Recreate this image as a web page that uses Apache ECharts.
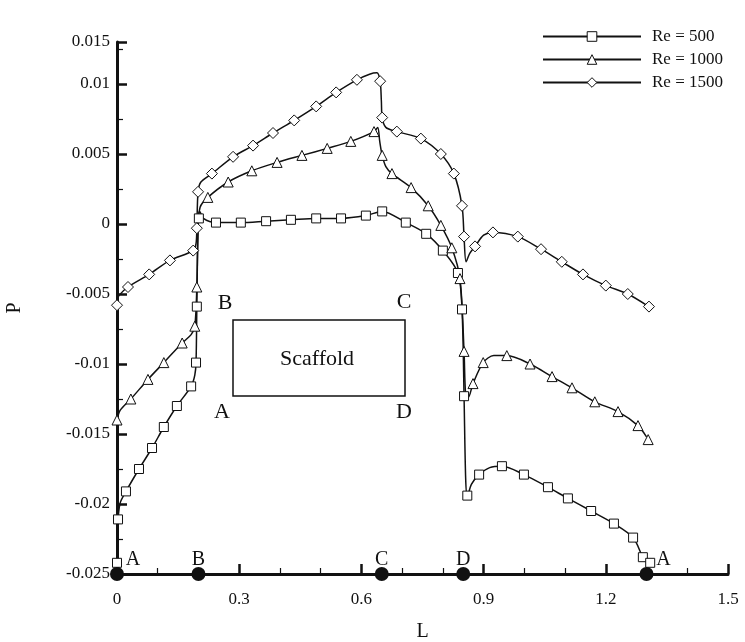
<!DOCTYPE html>
<html><head><meta charset="utf-8">
<script src="https://cdn.jsdelivr.net/npm/echarts@6/dist/echarts.min.js"></script>
<style>html,body{margin:0;padding:0;background:#fff}#c{width:745px;height:642px}</style>
</head><body><div id="c"></div>
<script>
const seriesNames = ['Re = 500', 'Re = 1000', 'Re = 1500'];
const seriesSymbols = ['rect', 'triangle', 'diamond'];

// Re = 500 : marker points and full smooth path
const re500Marks = [[0,-0.0242],[0.0025,-0.0211],[0.022,-0.0191],[0.054,-0.0175],[0.086,-0.0160],[0.115,-0.0145],[0.147,-0.0130],[0.182,-0.0116],[0.194,-0.0099],[0.196,-0.0059],[0.201,0.0004],[0.243,0.0001],[0.304,0.0001],[0.366,0.0002],[0.427,0.0003],[0.489,0.0004],[0.55,0.0004],[0.611,0.0006],[0.651,0.0009],[0.709,0.0001],[0.759,-0.0007],[0.80,-0.0019],[0.837,-0.0035],[0.847,-0.0061],[0.852,-0.0123],[0.860,-0.0194],[0.889,-0.0179],[0.945,-0.0173],[0.999,-0.0179],[1.058,-0.0188],[1.107,-0.0196],[1.164,-0.0205],[1.220,-0.0214],[1.267,-0.0224],[1.291,-0.0238],[1.309,-0.0242]];
const re500Path = [[0,-0.0242],[0.001,-0.0222],[0.0025,-0.0211],[0.008,-0.0199],[0.022,-0.0191],[0.054,-0.0175],[0.086,-0.0160],[0.115,-0.0145],[0.147,-0.0130],[0.182,-0.0116],[0.191,-0.0108],[0.194,-0.0099],[0.196,-0.0059],[0.198,-0.0015],[0.200,0.0006],[0.203,0.0009],[0.212,0.0004],[0.243,0.0001],[0.304,0.0001],[0.366,0.0002],[0.427,0.0003],[0.489,0.0004],[0.55,0.0004],[0.611,0.0006],[0.651,0.0009],[0.709,0.0001],[0.759,-0.0007],[0.80,-0.0019],[0.837,-0.0035],[0.847,-0.0061],[0.852,-0.0123],[0.856,-0.0182],[0.860,-0.0195],[0.870,-0.0186],[0.889,-0.0179],[0.915,-0.0174],[0.945,-0.0173],[0.999,-0.0179],[1.058,-0.0188],[1.107,-0.0196],[1.164,-0.0205],[1.220,-0.0214],[1.267,-0.0224],[1.291,-0.0238],[1.305,-0.0243]];

// Re = 1000
const re1000Marks = [[0,-0.0140],[0.034,-0.0125],[0.076,-0.0111],[0.115,-0.0099],[0.160,-0.0085],[0.191,-0.0073],[0.196,-0.0045],[0.223,0.0019],[0.273,0.0030],[0.331,0.0038],[0.393,0.0044],[0.454,0.0049],[0.516,0.0054],[0.574,0.0059],[0.631,0.0066],[0.651,0.0049],[0.675,0.0036],[0.722,0.0026],[0.764,0.0013],[0.795,-0.0001],[0.822,-0.0017],[0.842,-0.0039],[0.852,-0.0091],[0.874,-0.0114],[0.899,-0.0099],[0.957,-0.0094],[1.014,-0.0100],[1.068,-0.0109],[1.117,-0.0117],[1.173,-0.0127],[1.230,-0.0134],[1.279,-0.0144],[1.304,-0.0154]];
const re1000Path = [[0,-0.0140],[0.008,-0.0133],[0.034,-0.0125],[0.076,-0.0111],[0.115,-0.0099],[0.160,-0.0085],[0.182,-0.0079],[0.191,-0.0073],[0.196,-0.0045],[0.199,-0.0005],[0.204,0.0012],[0.223,0.0019],[0.273,0.0030],[0.331,0.0038],[0.393,0.0044],[0.454,0.0049],[0.516,0.0054],[0.574,0.0059],[0.631,0.0066],[0.640,0.0069],[0.645,0.0059],[0.651,0.0049],[0.660,0.0041],[0.675,0.0036],[0.722,0.0026],[0.764,0.0013],[0.795,-0.0001],[0.822,-0.0017],[0.842,-0.0039],[0.852,-0.0091],[0.856,-0.0122],[0.862,-0.0124],[0.874,-0.0114],[0.899,-0.0099],[0.925,-0.0094],[0.957,-0.0094],[1.014,-0.0100],[1.068,-0.0109],[1.117,-0.0117],[1.173,-0.0127],[1.230,-0.0134],[1.279,-0.0144],[1.300,-0.0152]];

// Re = 1500
const re1500Marks = [[0,-0.0058],[0.027,-0.0045],[0.079,-0.0036],[0.130,-0.0026],[0.187,-0.0019],[0.196,-0.0003],[0.199,0.0023],[0.233,0.0036],[0.285,0.0048],[0.334,0.0056],[0.383,0.0065],[0.435,0.0074],[0.489,0.0084],[0.538,0.0094],[0.589,0.0103],[0.646,0.0102],[0.651,0.0076],[0.687,0.0066],[0.746,0.0061],[0.795,0.0050],[0.827,0.0036],[0.847,0.0013],[0.852,-0.0009],[0.879,-0.0016],[0.923,-0.0006],[0.984,-0.0009],[1.041,-0.0018],[1.092,-0.0027],[1.144,-0.0036],[1.200,-0.0044],[1.254,-0.0050],[1.306,-0.0059]];
const re1500Path = [[0,-0.0055],[0.005,-0.0051],[0.027,-0.0045],[0.079,-0.0036],[0.130,-0.0026],[0.187,-0.0019],[0.194,-0.0014],[0.196,-0.0003],[0.199,0.0023],[0.206,0.0030],[0.233,0.0036],[0.285,0.0048],[0.334,0.0056],[0.383,0.0065],[0.435,0.0074],[0.489,0.0084],[0.538,0.0094],[0.589,0.0103],[0.620,0.0107],[0.638,0.0108],[0.646,0.0102],[0.649,0.0088],[0.651,0.0076],[0.660,0.0069],[0.687,0.0066],[0.746,0.0061],[0.795,0.0050],[0.827,0.0036],[0.847,0.0013],[0.852,-0.0009],[0.857,-0.0027],[0.866,-0.0021],[0.879,-0.0016],[0.900,-0.0008],[0.923,-0.0006],[0.984,-0.0009],[1.041,-0.0018],[1.092,-0.0027],[1.144,-0.0036],[1.200,-0.0044],[1.254,-0.0050],[1.300,-0.0058]];

// Points on the L axis
const pointL = [0, 0.2, 0.65, 0.85, 1.3];
const pointNames = ['A', 'B', 'C', 'D', 'A'];
const pointP = -0.025;

// axis ticks
const xMin = 0, xMax = 1.5, xStep = 0.3;
const yMin = -0.025, yMax = 0.013, yStep = 0.005;
const yTopLabel = '0.015';

const FONT = '"Liberation Serif", "DejaVu Serif", serif';
const paths = [re500Path, re1000Path, re1500Path];
const marks = [re500Marks, re1000Marks, re1500Marks];
const markSizes = [9, 10, 11];

const series = [];
paths.forEach((p, i) => {
  series.push({
    name: seriesNames[i], type: 'line', data: p, smooth: 0.3,
    symbol: seriesSymbols[i], showSymbol: false, symbolSize: markSizes[i],
    lineStyle: { color: '#111', width: 1.5 },
    itemStyle: { color: '#fff', borderColor: '#111', borderWidth: 1, opacity: 1 },
    z: 3, silent: true, animation: false
  });
});
marks.forEach((m, i) => {
  series.push({
    name: seriesNames[i] + ' markers', type: 'scatter', data: m,
    symbol: seriesSymbols[i], symbolSize: markSizes[i],
    itemStyle: { color: '#fff', borderColor: '#111', borderWidth: 1, opacity: 1 },
    z: 4, silent: true, animation: false
  });
});
const labelOffsets = [[16, 8], [0, 8], [0, 8], [0, 8], [17, 8]];
series.push({
  name: 'points', type: 'scatter', clip: false,
  data: pointL.map((l, i) => ({
    value: [l, pointP],
    label: { show: true, formatter: pointNames[i], position: 'top', offset: labelOffsets[i] }
  })),
  symbol: 'circle', symbolSize: 14,
  itemStyle: { color: '#111', opacity: 1 },
  label: { color: '#111', fontFamily: FONT, fontSize: 20 },
  z: 6, silent: true, animation: false
});

const chart = echarts.init(document.getElementById('c'));
chart.setOption({
  backgroundColor: '#fff',
  animation: false,
  grid: { left: 117, right: 17, top: 42, bottom: 68, outerBoundsMode: 'none', containLabel: false },
  legend: {
    data: seriesNames.map(n => ({ name: n })),
    orient: 'vertical', left: 537, top: 23,
    itemWidth: 98, itemHeight: 12, itemGap: 6,
    itemStyle: { borderWidth: 1 },
    textStyle: { fontFamily: FONT, fontSize: 17, color: '#111', padding: [0, 0, 0, 6] }
  },
  xAxis: {
    type: 'value', min: xMin, max: xMax, interval: xStep,
    name: 'L', nameLocation: 'middle', nameGap: 48,
    nameTextStyle: { fontFamily: FONT, fontSize: 20, color: '#111' },
    axisLine: { onZero: false, lineStyle: { color: '#111', width: 3 } },
    axisTick: { inside: true, length: 10, lineStyle: { width: 2.5, color: '#111' } },
    minorTick: { show: true, splitNumber: 3, length: 6, lineStyle: { width: 1.2, color: '#111' } },
    axisLabel: { fontFamily: FONT, fontSize: 17, color: '#111', margin: 17,
      formatter: v => String(Math.round(v * 10) / 10) },
    splitLine: { show: false }
  },
  yAxis: {
    type: 'value', min: yMin, max: yMax, interval: yStep,
    name: 'P', nameLocation: 'middle', nameGap: 92, nameRotate: 90,
    nameTextStyle: { fontFamily: FONT, fontSize: 20, color: '#111' },
    axisLine: { onZero: false, lineStyle: { color: '#111', width: 3 } },
    axisTick: { inside: true, length: 10, lineStyle: { width: 2.5, color: '#111' } },
    minorTick: { show: true, splitNumber: 2, length: 6, lineStyle: { width: 1.2, color: '#111' } },
    axisLabel: { fontFamily: FONT, fontSize: 17, color: '#111', margin: 7,
      formatter: v => Math.abs(v - yMax) < 1e-9 ? yTopLabel : String(Math.round(v * 1000) / 1000) },
    splitLine: { show: false }
  },
  graphic: [
    { type: 'rect', shape: { x: 233, y: 320, width: 172, height: 76 },
      style: { fill: 'none', stroke: '#111', lineWidth: 1.5 }, z: 10 },
    { type: 'text', x: 317, y: 359, style: { text: 'Scaffold', font: '22px ' + FONT, fill: '#111', align: 'center', verticalAlign: 'middle' }, z: 10 },
    { type: 'text', x: 225, y: 303, style: { text: 'B', font: '22px ' + FONT, fill: '#111', align: 'center', verticalAlign: 'middle' }, z: 10 },
    { type: 'text', x: 404, y: 302, style: { text: 'C', font: '22px ' + FONT, fill: '#111', align: 'center', verticalAlign: 'middle' }, z: 10 },
    { type: 'text', x: 222, y: 412, style: { text: 'A', font: '22px ' + FONT, fill: '#111', align: 'center', verticalAlign: 'middle' }, z: 10 },
    { type: 'text', x: 404, y: 412, style: { text: 'D', font: '22px ' + FONT, fill: '#111', align: 'center', verticalAlign: 'middle' }, z: 10 }
  ],
  series: series
});
</script></body></html>
